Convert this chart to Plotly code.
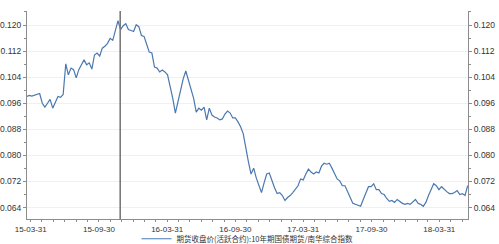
import pandas as pd
import plotly.graph_objects as go

start_date = "2015-03-20"
values = [
    0.0981, 0.0984, 0.0982, 0.0984, 0.0987, 0.0990, 0.0960, 0.0948, 0.0960, 0.0972,
    0.0945, 0.0963, 0.0981, 0.0978, 0.0987, 0.1081, 0.1047, 0.1068, 0.1063, 0.1038,
    0.1063, 0.1078, 0.1093, 0.1078, 0.1084, 0.1065, 0.1108, 0.1114, 0.1105, 0.1129,
    0.1135, 0.1144, 0.1159, 0.1153, 0.1183, 0.1213, 0.1186, 0.1198, 0.1204, 0.1186,
    0.1183, 0.1180, 0.1201, 0.1195, 0.1168, 0.1165, 0.1141, 0.1117, 0.1114, 0.1071,
    0.1068, 0.1056, 0.1062, 0.1056, 0.1047, 0.1014, 0.0975, 0.0930, 0.0963, 0.1005,
    0.1035, 0.1059, 0.1029, 0.1002, 0.0975, 0.0933, 0.0945, 0.0939, 0.0948, 0.0909,
    0.0945, 0.0924, 0.0918, 0.0915, 0.0909, 0.0912, 0.0927, 0.0936, 0.0930, 0.0915,
    0.0915, 0.0903, 0.0888, 0.0867, 0.0819, 0.0780, 0.0743, 0.0761, 0.0731, 0.0707,
    0.0686, 0.0716, 0.0743, 0.0746, 0.0722, 0.0701, 0.0683, 0.0686, 0.0677, 0.0662,
    0.0671, 0.0677, 0.0686, 0.0695, 0.0707, 0.0728, 0.0725, 0.0743, 0.0758, 0.0749,
    0.0743, 0.0749, 0.0746, 0.0767, 0.0776, 0.0773, 0.0776, 0.0761, 0.0746, 0.0728,
    0.0722, 0.0707, 0.0707, 0.0686, 0.0671, 0.0653, 0.0650, 0.0647, 0.0644, 0.0665,
    0.0686, 0.0704, 0.0704, 0.0713, 0.0695, 0.0695, 0.0683, 0.0680, 0.0668, 0.0659,
    0.0662, 0.0656, 0.0665, 0.0659, 0.0653, 0.0650, 0.0653, 0.0650, 0.0659, 0.0665,
    0.0653, 0.0650, 0.0644, 0.0656, 0.0677, 0.0698, 0.0713, 0.0707, 0.0695, 0.0704,
    0.0695, 0.0689, 0.0683, 0.0683, 0.0686, 0.0692, 0.0680, 0.0683, 0.0677, 0.0707,
]
dates = pd.date_range(start_date, periods=len(values), freq="7D")

tick_dates = ["2015-03-31", "2015-09-30", "2016-03-31", "2016-09-30",
              "2017-03-31", "2017-09-30", "2018-03-31"]
tick_labels = ["15-03-31", "15-09-30", "16-03-31", "16-09-30",
               "17-03-31", "17-09-30", "18-03-31"]
y_ticks = [0.064, 0.072, 0.080, 0.088, 0.096, 0.104, 0.112, 0.120]
marker_date = "2015-11-26"
series_name = "期货收盘价(活跃合约):10年期国债期货/南华综合指数"

y_range = [0.0605, 0.1243]
x_range = ["2015-03-21", "2018-06-16"]

axis_col = "#8c8c8c"
tick_font = dict(family="Liberation Sans, Arial, sans-serif", size=8.5, color="#333333")
xtick_font = dict(family="Liberation Sans, Arial, sans-serif", size=8, color="#333333")

fig = go.Figure()
fig.add_trace(go.Scatter(
    x=dates, y=values, mode="lines", name=series_name,
    line=dict(color="#4a78b0", width=1.2),
))
# same series on the right axis (invisible) so the right axis is drawn
fig.add_trace(go.Scatter(
    x=dates, y=values, mode="lines", yaxis="y2", showlegend=False,
    line=dict(color="rgba(0,0,0,0)", width=0), hoverinfo="skip",
))

fig.add_shape(type="line", xref="x", yref="paper", x0=marker_date, x1=marker_date,
              y0=0, y1=1, line=dict(color="#7a7a7a", width=1.6))

fig.update_layout(
    width=499, height=244,
    margin=dict(l=27, r=31, t=11, b=25, autoexpand=False),
    paper_bgcolor="white", plot_bgcolor="white",
    showlegend=True,
    legend=dict(orientation="h", x=0.5, xanchor="center", y=-0.095, yanchor="middle",
                font=dict(family="Noto Sans CJK SC, sans-serif", size=7.5, color="#333333"),
                itemwidth=30, bgcolor="rgba(0,0,0,0)", tracegroupgap=0),
    xaxis=dict(
        type="date", range=x_range,
        tickmode="array", tickvals=tick_dates, ticktext=tick_labels,
        ticks="outside", ticklen=2, tickcolor=axis_col, tickfont=xtick_font,
        showline=True, linecolor=axis_col, linewidth=1.2,
        showgrid=False, zeroline=False,
        minor=dict(ticks="outside", ticklen=2, tickcolor=axis_col, dtick="M1",
                   tick0="2015-03-31", showgrid=False),
    ),
    yaxis=dict(
        range=y_range, tickmode="array", tickvals=y_ticks, tickformat=".3f",
        ticks="outside", ticklen=3, tickcolor=axis_col, tickfont=tick_font,
        showline=True, linecolor=axis_col, linewidth=1.2,
        showgrid=True, gridcolor="#f0f0f0", gridwidth=1, zeroline=False,
        minor=dict(ticks="outside", ticklen=2, tickcolor=axis_col, dtick=0.004,
                   tick0=0.064, showgrid=False),
    ),
    yaxis2=dict(
        range=y_range, overlaying="y", side="right",
        tickmode="array", tickvals=y_ticks, tickformat=".3f",
        ticks="outside", ticklen=3, tickcolor=axis_col, tickfont=tick_font,
        showline=True, linecolor=axis_col, linewidth=1.2,
        showgrid=False, zeroline=False,
        minor=dict(ticks="outside", ticklen=2, tickcolor=axis_col, dtick=0.004,
                   tick0=0.064, showgrid=False),
    ),
)

fig.write_html("out.html")
